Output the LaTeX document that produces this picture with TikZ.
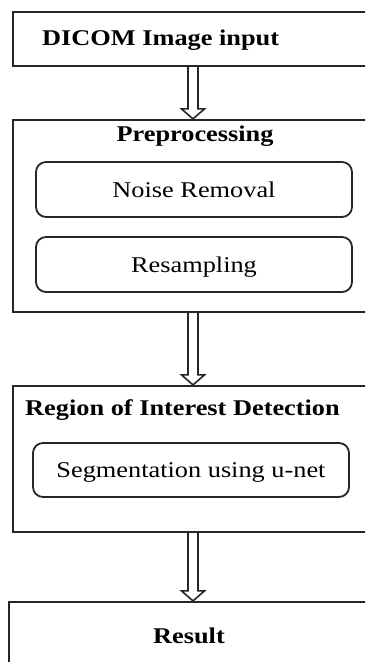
\documentclass[tikz,border=0pt]{standalone}
\usepackage{fontspec}
\setmainfont{Liberation Serif}[FakeStretch=1.17]
\usetikzlibrary{calc}
\tikzset{
  outer/.style={draw=black!85, line width=2.2pt, minimum width=364pt, inner sep=0pt},
  inner/.style={draw=black!85, line width=1.8pt, rounded corners=10pt, minimum width=316pt,
    minimum height=55pt, text height=15pt, text depth=0pt, font=\fontsize{22.5}{27}\selectfont},
  title/.style={font=\fontsize{22.5}{27}\selectfont\bfseries, inner sep=0pt},
  hollow/.style={draw=black!85, line width=1.6pt, to path={
    ($(\tikztostart)+(-5,0)$) -- ($(\tikztotarget)+(-5,-10)$) -- ($(\tikztotarget)+(-11.5,-10)$)
    -- (\tikztotarget) -- ($(\tikztotarget)+(11.5,-10)$) -- ($(\tikztotarget)+(5,-10)$)
    -- ($(\tikztostart)+(5,0)$)}}
}
\begin{document}
\begin{tikzpicture}[x=1pt,y=-1pt]
\useasboundingbox (0,0) rectangle (365,662);
\clip (0,0) rectangle (365,662);
\coordinate (ax) at (193,0);

% input
\node[outer, minimum height=54pt] (dicom) at (195,39) {};
\node[title, anchor=base west] (dicomtext) at (42,45) {DICOM Image input};

% preprocessing
\node[outer, minimum height=192pt] (prep) at (195,216) {};
\node[title, anchor=base] (preptitle) at (195,141) {Preprocessing};
\node[inner] (noise) at (194,189.5) {Noise Removal};
\node[inner] (resample) at (194,264.5) {Resampling};

% region of interest
\node[outer, minimum height=146pt] (roi) at (195,459) {};
\node[title, anchor=base west] (roititle) at (25,415) {Region of Interest Detection};
\node[inner, minimum height=54pt] (seg) at (191,470) {Segmentation using u-net};

% result
\node[outer, minimum height=100pt] (result) at (191,652) {};
\node[title, anchor=base] (resulttext) at (189,643) {Result};

\draw[hollow] (dicom.south -| ax) to (prep.north -| ax);
\draw[hollow] (prep.south -| ax) to (roi.north -| ax);
\draw[hollow] (roi.south -| ax) to (result.north -| ax);
\end{tikzpicture}
\end{document}
